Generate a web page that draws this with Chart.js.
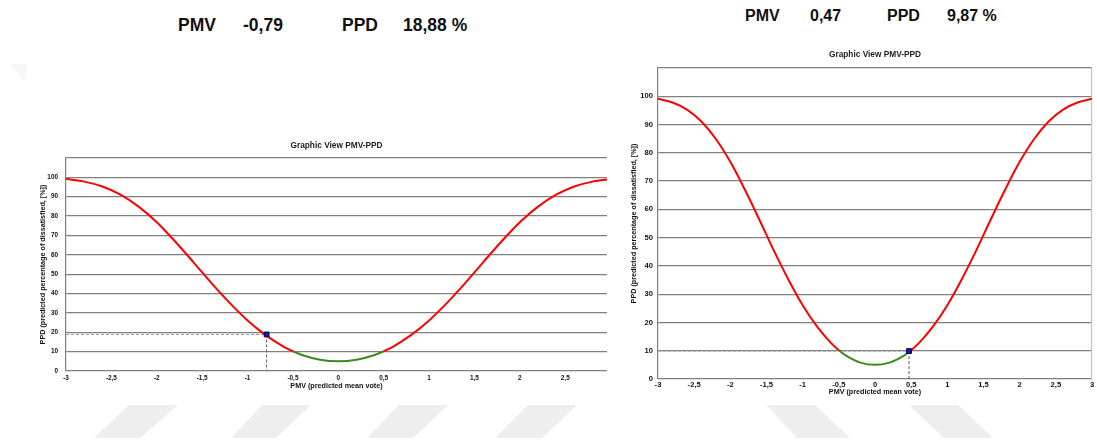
<!DOCTYPE html>
<html>
<head>
<meta charset="utf-8">
<script src="https://cdn.jsdelivr.net/npm/chart.js@4.4.1/dist/chart.umd.min.js"></script>
<style>
  html, body { margin: 0; padding: 0; background: #ffffff; }
  body { width: 1097px; height: 440px; position: relative; overflow: hidden;
         font-family: 'Liberation Sans', Arial, sans-serif; }
  .hd { position: absolute; font-weight: bold; color: #111; white-space: nowrap; line-height: 1; }
  canvas { position: absolute; }
  svg.bg { position: absolute; left: 0; top: 0; }
</style>
</head>
<body>
<svg class="bg" width="1097" height="440">
  <g fill="#eeeeee">
    <polygon points="129,405 178,405 140,438 94,438"/>
    <polygon points="262,405 311,405 276,438 231,438"/>
    <polygon points="399,405 448,405 413,438 367,438"/>
    <polygon points="528,405 577,405 542,438 495,438"/>
    <polygon points="766,405 815,405 850,438 797,438"/>
    <polygon points="909,405 958,405 993,438 944,438"/>
  </g>
  <polygon points="11,64 27,64 26,80 23,80" fill="#f7f7f7"/>
</svg>

<canvas id="c0" width="620" height="265" style="left:0;top:130px"></canvas>
<canvas id="c1" width="477" height="360" style="left:620px;top:40px"></canvas>

<script>
// PMV grid and PPD values of the comfort curve
const pmvSteps = [-3, -2.8, -2.6, -2.4, -2.2, -2, -1.8, -1.6, -1.4, -1.2, -1, -0.8, -0.6, -0.5, -0.4, -0.2,
                  0, 0.2, 0.4, 0.5, 0.6, 0.8, 1, 1.2, 1.4, 1.6, 1.8, 2, 2.2, 2.4, 2.6, 2.8, 3];
const ppdCurve = [99.1, 97.8, 95.3, 91.1, 84.9, 76.8, 67.0, 56.4, 45.5, 35.3, 26.1, 18.5, 12.5, 10.2, 8.3, 5.8,
                  5.0, 5.8, 8.3, 10.2, 12.5, 18.5, 26.1, 35.3, 45.5, 56.4, 67.0, 76.8, 84.9, 91.1, 95.3, 97.8, 99.1];

// Current operating points (one per chart)
const pmvValues = [-0.79, 0.47];
const ppdValues = [18.88, 9.87];

// Comfort band (drawn green)
const comfortBand = [-0.5, 0.5];

const RED = '#ff0000';
const GREEN = '#3a8a20';
const GRID = '#808080';
const FONT = "'Liberation Sans', Arial, sans-serif";

const fmt = v => Number(v.toFixed(2)).toString().replace('.', ',');

// Header lines: "PMV value   PPD value %"
const headers = [
  { size: 17.5, top: 17, xs: [178, 243, 342, 403] },
  { size: 16,   top: 8,  xs: [745, 810, 887, 947] }
];
headers.forEach((h, i) => {
  const texts = ['PMV', fmt(pmvValues[i]), 'PPD', fmt(ppdValues[i]) + ' %'];
  texts.forEach((t, k) => {
    const d = document.createElement('div');
    d.className = 'hd';
    d.textContent = t;
    d.style.left = h.xs[k] + 'px';
    d.style.top = h.top + 'px';
    d.style.fontSize = h.size + 'px';
    document.body.appendChild(d);
  });
});

// Title centred over the plot area
const areaTitle = {
  id: 'areaTitle',
  afterDraw(chart, args, opts) {
    const { ctx, chartArea } = chart;
    ctx.save();
    ctx.font = 'bold 8.3px ' + FONT;
    ctx.fillStyle = '#222';
    ctx.textAlign = 'center';
    ctx.textBaseline = 'middle';
    ctx.fillText(opts.text, (chartArea.left + chartArea.right) / 2, chartArea.top - opts.offset);
    ctx.restore();
  }
};

function buildChart(id, idx, g) {
  const pmv = pmvValues[idx], ppd = ppdValues[idx];
  const scales = {
    x: {
      type: 'linear', min: -3, max: g.xMax,
      ticks: { stepSize: 0.5, includeBounds: false, autoSkip: false, maxRotation: 0,
               callback: v => fmt(v), color: '#111', padding: g.xTickPad,
               font: { size: g.tickSize, weight: 'bold', family: FONT } },
      grid: { display: false, drawTicks: false },
      border: { display: false },
      title: { display: true, text: 'PMV (predicted mean vote)', color: '#111',
               font: { size: 7.2, weight: 'bold', family: FONT },
               padding: { top: 0, bottom: g.xTitlePad } },
      afterFit: s => { s.height = g.xHeight; }
    },
    y: {
      min: 0, max: 110,
      ticks: { stepSize: 10, callback: v => (v > 100 ? '' : v), color: '#111', padding: g.yTickPad,
               font: { size: g.tickSize, weight: 'bold', family: FONT } },
      grid: { color: GRID, lineWidth: 1.2, drawTicks: false },
      border: { color: GRID, width: 1.2 },
      title: { display: true, text: 'PPD (predicted percentage of dissatisfied, [%])', color: '#111',
               font: { size: 7.2, weight: 'bold', family: FONT },
               padding: { top: g.yTitlePad, bottom: 0 } },
      afterFit: s => { s.width = g.yWidth; }
    }
  };
  if (g.rightBorder) {
    scales.y2 = {
      position: 'right', min: 0, max: 110,
      ticks: { display: false }, grid: { display: false, drawTicks: false },
      border: { color: '#c4c4c4', width: 1.2 },
      afterFit: s => { s.width = 0; }
    };
  }
  return new Chart(document.getElementById(id), {
    type: 'line',
    data: {
      datasets: [
        {
          data: [{ x: pmv, y: ppd }],
          type: 'scatter',
          pointStyle: 'rect', pointRadius: 3.4,
          backgroundColor: '#1a1aa8', borderColor: '#00005a', borderWidth: 1,
          order: 0
        },
        {
          data: pmvSteps.map((x, i) => ({ x, y: ppdCurve[i] })),
          borderColor: RED, borderWidth: 2, pointRadius: 0,
          cubicInterpolationMode: 'monotone',
          segment: {
            borderColor: c => (c.p0.parsed.x >= comfortBand[0] - 1e-9 && c.p1.parsed.x <= comfortBand[1] + 1e-9) ? GREEN : RED
          },
          order: 1
        },
        {
          data: [{ x: -3, y: ppd }, { x: pmv, y: ppd }],
          borderColor: '#9a9a9a', borderWidth: 1, borderDash: [3, 2], pointRadius: 0,
          order: 2
        },
        {
          data: [{ x: pmv, y: ppd }, { x: pmv, y: 0 }],
          borderColor: '#5a5a5a', borderWidth: 1, borderDash: [3, 2], pointRadius: 0,
          order: 2
        }
      ]
    },
    options: {
      responsive: false, animation: false, devicePixelRatio: 1,
      layout: { padding: { top: g.top, left: 0, right: g.padRight, bottom: 0 } },
      plugins: {
        legend: { display: false },
        tooltip: { enabled: false },
        areaTitle: { text: 'Graphic View PMV-PPD', offset: g.titleOffset }
      },
      scales
    },
    plugins: [areaTitle]
  });
}

buildChart('c0', 0, {
  xMax: 2.96, top: 28, padRight: 13, yWidth: 66, xHeight: 24,
  tickSize: 6.4, xTickPad: 3, xTitlePad: 5, yTickPad: 8, yTitlePad: 38.5,
  titleOffset: 12.3, rightBorder: false
});
buildChart('c1', 1, {
  xMax: 3, top: 28, padRight: 4, yWidth: 38, xHeight: 21,
  tickSize: 7.6, xTickPad: 1.5, xTitlePad: 4, yTickPad: 5, yTitlePad: 10,
  titleOffset: 13, rightBorder: true
});
</script>
</body>
</html>
